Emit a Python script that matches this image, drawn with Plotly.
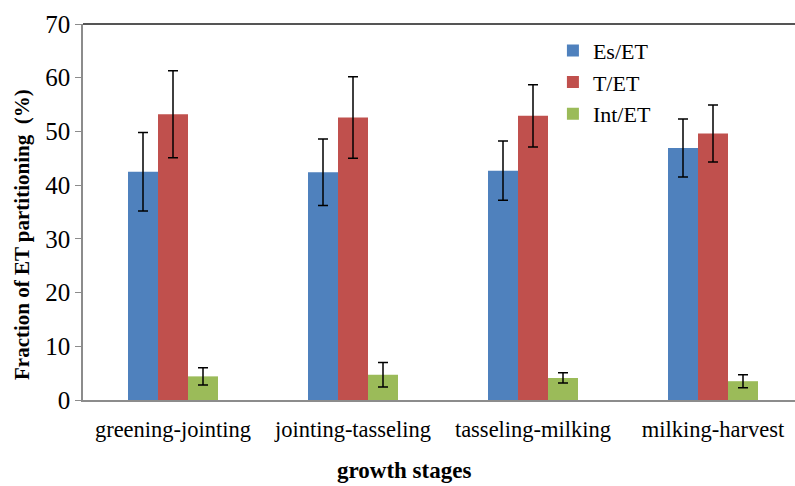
import plotly.graph_objects as go

# Growth stages and ET partitioning fractions (%)
stages = ["greening-jointing", "jointing-tasseling", "tasseling-milking", "milking-harvest"]
es_et = [42.5, 42.4, 42.7, 46.9]
es_err = [7.3, 6.2, 5.5, 5.4]
t_et = [53.2, 52.6, 52.9, 49.6]
t_err = [8.1, 7.6, 5.8, 5.3]
int_et = [4.4, 4.7, 4.1, 3.5]
int_err = [1.6, 2.3, 0.95, 1.2]

x_title = "growth stages"
y_title = "Fraction of ET partitioning  (%)"

series = [
    ("Es/ET", es_et, es_err, "#4F81BD"),
    ("T/ET", t_et, t_err, "#C0504D"),
    ("Int/ET", int_et, int_err, "#9BBB59"),
]

font_family = "Liberation Serif, Times New Roman, serif"

fig = go.Figure()
for name, vals, errs, color in series:
    fig.add_trace(go.Bar(
        name=name, x=stages, y=vals,
        marker=dict(color=color, line=dict(width=0)),
        error_y=dict(type="data", array=errs, visible=True,
                     color="black", thickness=1.5, width=5),
    ))

fig.update_layout(
    width=795, height=486,
    margin=dict(l=83, r=0, t=24, b=86),
    plot_bgcolor="white", paper_bgcolor="white",
    barmode="group", bargap=0.5, bargroupgap=0,
    font=dict(family=font_family, color="black", size=22),
    showlegend=True,
    legend=dict(x=0.66, y=0.985, xanchor="left", yanchor="top",
                bgcolor="rgba(0,0,0,0)", font=dict(size=22),
                itemwidth=30, tracegroupgap=0),
    xaxis=dict(
        range=[-0.5, -0.5 + 712 / 180],
        showline=True, linecolor="#8c8c8c", linewidth=2,
        ticks="", tickfont=dict(size=22.5), ticklabelstandoff=8,
    ),
    yaxis=dict(
        range=[0, 70], dtick=10,
        showline=True, linecolor="#8c8c8c", linewidth=1.5,
        ticks="outside", ticklen=6, tickcolor="#8c8c8c",
        showgrid=False, zeroline=False,
        tickfont=dict(size=25),
    ),
)

# Axis titles
fig.add_annotation(text=f"<b>{x_title}</b>", xref="paper", yref="paper",
                   x=(404 - 83) / 712, y=-70 / 376, xanchor="center", yanchor="middle",
                   showarrow=False, font=dict(size=23))
fig.add_annotation(text=f"<b>{y_title}</b>", xref="paper", yref="paper",
                   x=(22 - 83) / 712, y=(400 - 235) / 376, xanchor="center", yanchor="middle",
                   textangle=-90, showarrow=False, font=dict(size=21))

# Dark border along the top of the plot area
fig.add_shape(type="line", xref="paper", yref="paper",
              x0=0, x1=1, y0=1, y1=1,
              line=dict(color="#555555", width=2))

fig.write_html("out.html")
